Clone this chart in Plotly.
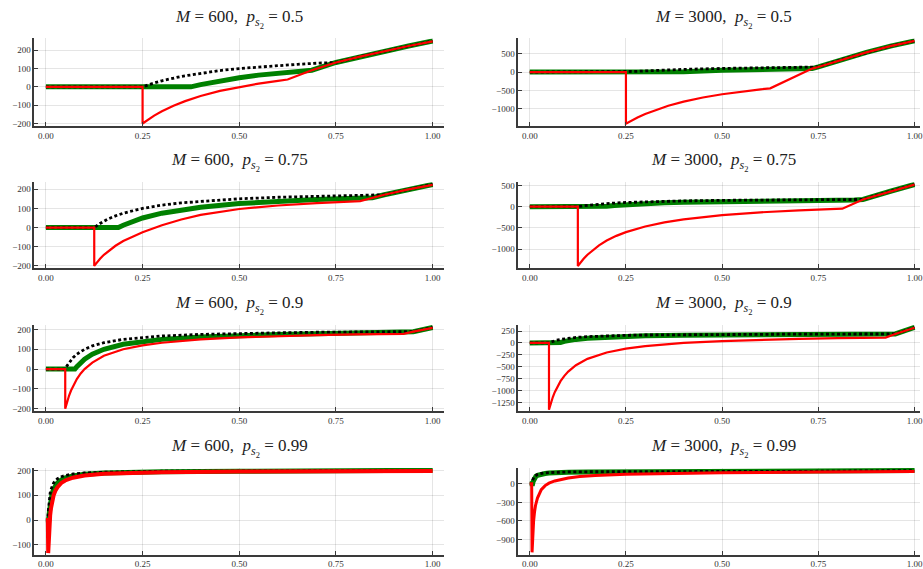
import plotly.graph_objects as go

# ---------------- data ----------------
titles = [
    ("600", "0.5"), ("3000", "0.5"),
    ("600", "0.75"), ("3000", "0.75"),
    ("600", "0.9"), ("3000", "0.9"),
    ("600", "0.99"), ("3000", "0.99"),
]
x_tick_vals = [0.0, 0.25, 0.5, 0.75, 1.0]

# Panel 1: M=600, p=0.5
p1_black_x = [0, 0.25, 0.275, 0.3, 0.35, 0.4, 0.45, 0.5, 0.55, 0.6, 0.65, 0.7, 0.75, 0.8125, 0.875, 0.9375, 1.0]
p1_black_y = [0, 0, 18, 33, 57, 75, 89, 100, 109, 117, 123, 129, 133, 165, 195, 223, 250]
p1_green_x = [0, 0.375, 0.4, 0.45, 0.5, 0.55, 0.6, 0.65, 0.6875, 0.75, 0.8125, 0.875, 0.9375, 1.0]
p1_green_y = [0, 0, 12, 33, 50, 64, 75, 85, 91, 133, 165, 195, 223, 250]
p1_red_x = [0, 0.25, 0.25, 0.26, 0.28, 0.3, 0.33, 0.36, 0.4, 0.45, 0.5, 0.55, 0.6, 0.625, 0.6875, 0.75, 0.8125, 0.875, 0.9375, 1.0]
p1_red_y = [0, 0, -200, -185, -157, -133, -103, -78, -50, -22, 0, 18, 33, 40, 91, 133, 165, 195, 223, 248]

# Panel 2: M=3000, p=0.5
p2_black_x = [0, 0.25, 0.275, 0.3, 0.35, 0.4, 0.5, 0.6, 0.7, 0.75, 0.8125, 0.875, 0.9375, 1.0]
p2_black_y = [0, 0, 18, 33, 57, 75, 100, 117, 129, 140, 345, 535, 705, 848]
p2_green_x = [0, 0.375, 0.4, 0.5, 0.6, 0.7, 0.734, 0.75, 0.8125, 0.875, 0.9375, 1.0]
p2_green_y = [0, 0, 12, 50, 75, 93, 95, 140, 345, 535, 705, 848]
p2_red_x = [0, 0.25, 0.25, 0.26, 0.28, 0.3, 0.33, 0.36, 0.4, 0.45, 0.5, 0.55, 0.6, 0.625, 0.734, 0.75, 0.8125, 0.875, 0.9375, 1.0]
p2_red_y = [0, 0, -1400, -1338, -1229, -1133, -1012, -911, -800, -689, -600, -527, -467, -440, 95, 140, 345, 535, 705, 845]

# Panel 3: M=600, p=0.75
p3_black_x = [0, 0.125, 0.14, 0.16, 0.18, 0.2, 0.25, 0.3, 0.35, 0.4, 0.5, 0.6, 0.7, 0.8, 0.875, 0.9375, 1.0]
p3_black_y = [0, 0, 21, 44, 61, 75, 100, 117, 129, 137, 150, 158, 164, 169, 171, 199, 225]
p3_green_x = [0, 0.1875, 0.2, 0.22, 0.25, 0.3, 0.35, 0.4, 0.5, 0.6, 0.7, 0.8, 0.844, 0.875, 0.9375, 1.0]
p3_green_y = [0, 0, 12, 30, 50, 75, 93, 106, 125, 137, 146, 153, 156, 171, 199, 225]
p3_red_x = [0, 0.125, 0.125, 0.13, 0.14, 0.15, 0.165, 0.18, 0.2, 0.225, 0.25, 0.3, 0.35, 0.4, 0.5, 0.6, 0.7, 0.8125, 0.86, 0.875, 0.9375, 1.0]
p3_red_y = [0, 0, -200, -187, -163, -142, -116, -95, -70, -45, -24, 12, 42, 66, 97, 115, 128, 138, 165, 171, 199, 223]

# Panel 4: M=3000, p=0.75
p4_black_x = [0, 0.125, 0.14, 0.16, 0.18, 0.2, 0.25, 0.3, 0.35, 0.4, 0.5, 0.6, 0.7, 0.8, 0.866, 0.9375, 1.0]
p4_black_y = [0, 0, 21, 44, 61, 75, 100, 117, 129, 137, 150, 158, 164, 169, 171, 365, 524]
p4_green_x = [0, 0.1875, 0.2, 0.22, 0.25, 0.3, 0.35, 0.4, 0.5, 0.6, 0.7, 0.8, 0.844, 0.866, 0.9375, 1.0]
p4_green_y = [0, 0, 12, 30, 50, 75, 93, 106, 125, 137, 146, 153, 156, 171, 365, 524]
p4_red_x = [0, 0.125, 0.125, 0.13, 0.14, 0.15, 0.165, 0.18, 0.2, 0.225, 0.25, 0.3, 0.35, 0.4, 0.5, 0.6, 0.7, 0.8125, 0.866, 0.9375, 1.0]
p4_red_y = [0, 0, -1400, -1338, -1229, -1133, -1012, -911, -800, -689, -600, -467, -371, -300, -200, -133, -86, -46, 171, 365, 520]

# Panel 5: M=600, p=0.9
p5_black_x = [0, 0.05, 0.055, 0.06, 0.07, 0.08, 0.1, 0.12, 0.15, 0.2, 0.25, 0.3, 0.4, 0.5, 0.6, 0.7, 0.8, 0.95, 1.0]
p5_black_y = [0, 0, 18, 33, 57, 75, 100, 117, 133, 150, 160, 167, 175, 180, 183, 186, 187, 189, 210]
p5_green_x = [0, 0.075, 0.08, 0.09, 0.1, 0.12, 0.15, 0.2, 0.25, 0.3, 0.4, 0.5, 0.6, 0.7, 0.8, 0.9375, 0.95, 1.0]
p5_green_y = [0, 0, 12, 33, 50, 75, 100, 125, 140, 150, 162, 170, 175, 178, 181, 184, 189, 210]
p5_red_x = [0, 0.05, 0.05, 0.052, 0.055, 0.06, 0.065, 0.07, 0.08, 0.09, 0.1, 0.12, 0.15, 0.2, 0.25, 0.3, 0.4, 0.5, 0.6, 0.7, 0.8, 0.925, 0.95, 1.0]
p5_red_y = [0, 0, -200, -185, -164, -133, -108, -86, -50, -22, 0, 33, 67, 100, 120, 133, 150, 160, 167, 171, 175, 178, 189, 208]

# Panel 6: M=3000, p=0.9
p6_black_x = [0, 0.05, 0.055, 0.06, 0.07, 0.08, 0.1, 0.12, 0.15, 0.2, 0.25, 0.3, 0.4, 0.5, 0.6, 0.7, 0.8, 0.95, 1.0]
p6_black_y = [0, 0, 18, 33, 57, 75, 100, 117, 133, 150, 160, 167, 175, 180, 183, 186, 187, 189, 325]
p6_green_x = [0, 0.075, 0.08, 0.09, 0.1, 0.12, 0.15, 0.2, 0.25, 0.3, 0.4, 0.5, 0.6, 0.7, 0.8, 0.9375, 0.95, 1.0]
p6_green_y = [0, 0, 12, 33, 50, 75, 100, 125, 140, 150, 162, 170, 175, 178, 181, 184, 189, 325]
p6_red_x = [0, 0.05, 0.05, 0.052, 0.055, 0.06, 0.065, 0.07, 0.08, 0.09, 0.1, 0.12, 0.15, 0.2, 0.25, 0.3, 0.4, 0.5, 0.6, 0.7, 0.8, 0.925, 0.95, 1.0]
p6_red_y = [0, 0, -1400, -1338, -1255, -1133, -1031, -943, -800, -689, -600, -467, -333, -200, -120, -67, 0, 40, 67, 86, 100, 113, 189, 320]

# Panel 7: M=600, p=0.99
p7_black_x = [0, 0.005, 0.006, 0.0075, 0.009, 0.011, 0.013, 0.016, 0.02, 0.025, 0.03, 0.04, 0.05, 0.07, 0.1, 0.15, 0.2, 0.3, 0.5, 0.7, 1.0]
p7_black_y = [0, 0, 33, 67, 89, 109, 123, 137, 150, 160, 167, 175, 180, 186, 190, 193, 195, 197, 198, 198.6, 201]
p7_green_x = [0, 0.0075, 0.009, 0.011, 0.013, 0.016, 0.02, 0.025, 0.03, 0.04, 0.05, 0.07, 0.1, 0.15, 0.2, 0.3, 0.5, 0.7, 1.0]
p7_green_y = [0, 0, 33, 64, 85, 106, 125, 140, 150, 162, 170, 178, 185, 190, 192, 195, 197, 198, 201]
p7_red_x = [0, 0.005, 0.006, 0.007, 0.008, 0.009, 0.011, 0.013, 0.016, 0.02, 0.025, 0.03, 0.04, 0.05, 0.07, 0.1, 0.15, 0.2, 0.3, 0.5, 0.7, 1.0]
p7_red_y = [0, 0, -133, -86, -50, -22, 18, 46, 75, 100, 120, 133, 150, 160, 171, 180, 187, 190, 193, 196, 197, 198]

# Panel 8: M=3000, p=0.99
p8_black_x = [0, 0.005, 0.006, 0.0075, 0.009, 0.011, 0.013, 0.016, 0.02, 0.025, 0.03, 0.04, 0.05, 0.07, 0.1, 0.15, 0.2, 0.3, 0.5, 0.7, 1.0]
p8_black_y = [0, 0, 33, 67, 89, 109, 123, 137, 150, 160, 167, 175, 180, 186, 190, 193, 195, 197, 198, 199, 213]
p8_green_x = [0, 0.0075, 0.009, 0.011, 0.013, 0.016, 0.02, 0.025, 0.03, 0.04, 0.05, 0.07, 0.1, 0.15, 0.2, 0.3, 0.5, 0.7, 1.0]
p8_green_y = [0, 0, 40, 75, 100, 120, 136, 148, 156, 166, 172, 180, 186, 190, 192, 195, 197, 199, 213]
p8_red_x = [0, 0.005, 0.006, 0.008, 0.01, 0.0125, 0.015, 0.02, 0.025, 0.03, 0.04, 0.05, 0.065, 0.08, 0.1, 0.13, 0.17, 0.25, 0.35, 0.5, 0.75, 1.0]
p8_red_y = [0, 0, -1105, -780, -600, -450, -350, -230, -150, -95, -30, 10, 45, 70, 92, 115, 133, 155, 168, 179, 188, 198]

panels = [
    (p1_green_x, p1_green_y, p1_black_x, p1_black_y, p1_red_x, p1_red_y),
    (p2_green_x, p2_green_y, p2_black_x, p2_black_y, p2_red_x, p2_red_y),
    (p3_green_x, p3_green_y, p3_black_x, p3_black_y, p3_red_x, p3_red_y),
    (p4_green_x, p4_green_y, p4_black_x, p4_black_y, p4_red_x, p4_red_y),
    (p5_green_x, p5_green_y, p5_black_x, p5_black_y, p5_red_x, p5_red_y),
    (p6_green_x, p6_green_y, p6_black_x, p6_black_y, p6_red_x, p6_red_y),
    (p7_green_x, p7_green_y, p7_black_x, p7_black_y, p7_red_x, p7_red_y),
    (p8_green_x, p8_green_y, p8_black_x, p8_black_y, p8_red_x, p8_red_y),
]

y_dticks = [100, 500, 100, 500, 100, 250, 100, 300]
y_ranges = [[-215, 264], [-1467, 912], [-212, 237], [-1452, 580],
            [-212, 222], [-1430, 375], [-140, 210], [-1145, 253]]
red_widths = [2.2, 2.2, 2.2, 2.2, 2.2, 2.2, 4.0, 3.0]

# ---------------- layout geometry (pixels) ----------------
W, H = 923, 569
col_px = [(34.4, 445.7), (519.9, 923.0)]
x_ranges = [[-0.03, 1.03], [-0.03, 1.0143]]
row_px = [(37.0, 126.0), (182.7, 270.0), (327.7, 415.0), (472.7, 560.7)]

SERIF = "Liberation Serif, DejaVu Serif, serif"

fig = go.Figure()
layout = dict(
    width=W, height=H,
    margin=dict(l=0, r=0, t=0, b=0),
    paper_bgcolor="white", plot_bgcolor="white",
    showlegend=False,
    font=dict(family=SERIF, color="#333333"),
)
annotations = []

for i, (gx, gy, bx, by, rx, ry) in enumerate(panels):
    r, c = divmod(i, 2)
    k = i + 1
    xa = "x" if k == 1 else f"x{k}"
    ya = "y" if k == 1 else f"y{k}"
    fig.add_trace(go.Scatter(x=gx, y=gy, mode="lines", xaxis=xa, yaxis=ya,
                             line=dict(color="#008000", width=5)))
    fig.add_trace(go.Scatter(x=bx, y=by, mode="lines", xaxis=xa, yaxis=ya,
                             line=dict(color="black", width=2.8, dash="3px,2.5px")))
    fig.add_trace(go.Scatter(x=rx, y=ry, mode="lines", xaxis=xa, yaxis=ya,
                             line=dict(color="#ff0000", width=red_widths[i])))

    x0p, x1p = col_px[c]
    t, b = row_px[r]
    common = dict(showgrid=True, gridcolor="rgba(0,0,0,0.10)", gridwidth=1,
                  zeroline=False, showline=True, linecolor="#3a3a3a", linewidth=1.5,
                  ticks="inside", ticklen=4, tickcolor="#3a3a3a", tickwidth=1,
                  ticklabeloverflow="allow",
                  tickfont=dict(family=SERIF, size=9, color="#333333"))
    layout["xaxis" if k == 1 else f"xaxis{k}"] = dict(
        domain=[x0p / W, x1p / W], range=x_ranges[c], anchor=ya,
        tickvals=x_tick_vals, tickformat=".2f", **common)
    layout["yaxis" if k == 1 else f"yaxis{k}"] = dict(
        domain=[1 - b / H, 1 - t / H], range=y_ranges[i], anchor=xa,
        dtick=y_dticks[i], tick0=0, **common)

    m, p = titles[i]
    txt = (f"<i>M</i> = {m},\u2002<i>p</i>"
           f"<span style=\"font-size:12px;font-style:italic;baseline-shift:-4px\">s</span>"
           f"<span style=\"font-size:8.5px;baseline-shift:-7px\">2</span>"
           f" = {p}")
    cx = (col_px[c][0] + (446.0 if c == 0 else 931.0)) / 2
    annotations.append(dict(text=txt, x=cx / W, y=1 - (t - 20) / H,
                            xref="paper", yref="paper", xanchor="center", yanchor="middle",
                            showarrow=False,
                            font=dict(family=SERIF, size=17, color="#222222")))

layout["annotations"] = annotations
fig.update_layout(**layout)
fig.write_html("out.html", config={"displayModeBar": False},
               post_script="document.body.style.margin='0';document.body.style.overflow='hidden';")
